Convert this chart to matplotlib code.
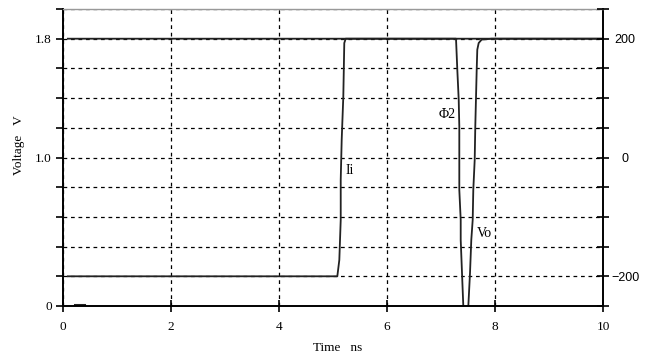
import numpy as np
import matplotlib.pyplot as plt
from matplotlib.ticker import MultipleLocator

plt.rcParams['font.family'] = ['Liberation Serif', 'DejaVu Serif']
plt.rcParams['font.size'] = 9.5

# transient traces, time in ns, voltage in V
ii_t = [0.09, 5.08, 5.117, 5.143, 5.143, 5.161, 5.191, 5.209, 5.235, 10.0]
ii_v = [0.2, 0.2, 0.31, 0.58, 0.85, 1.119, 1.411, 1.771, 1.8, 1.8]

phi2_t = [0.09, 7.278, 7.302, 7.328, 7.339, 7.339, 7.365, 7.365, 7.389, 7.413]
phi2_v = [1.8, 1.8, 1.591, 1.389, 1.209, 0.782, 0.58, 0.445, 0.222, 0.0]

vo_t = [7.506, 7.537, 7.561, 7.587, 7.598, 7.624, 7.635, 7.661, 7.672, 7.698, 7.753, 7.939, 10.0]
vo_v = [0.0, 0.22, 0.445, 0.58, 0.782, 0.984, 1.209, 1.591, 1.726, 1.771, 1.794, 1.8, 1.8]

# short glitch near the start
glitch_t = [0.22, 0.39]
glitch_v = [0.01, 0.01]

x_ticks = [0, 2, 4, 6, 8, 10]
y_ticks = [0, 1.0, 1.8]
y_ticklabels = ['0', '1.0', '1.8']
r_ticks = [-200, 0, 200]
r_ticklabels = ['\u2212200', '0', '200']

fig = plt.figure(figsize=(6.46, 3.61), dpi=100)
ax = fig.add_axes([63/646, 1-306/361, 540/646, 297/361])

ax.plot(ii_t, ii_v, color='#222222', lw=1.3)
ax.plot(phi2_t, phi2_v, color='#222222', lw=1.3)
ax.plot(vo_t, vo_v, color='#222222', lw=1.3)
ax.plot(glitch_t, glitch_v, color='#222222', lw=2.2)

ax.text(5.31, 0.91, 'Ii', ha='center', va='center', fontsize=10)
ax.text(7.11, 1.29, '\u03a62', ha='center', va='center', fontsize=10)
ax.text(7.8, 0.49, 'Vo', ha='center', va='center', fontsize=10)

ax.set_xlim(0, 10)
ax.set_ylim(0, 2.0)
ax.set_xticks(x_ticks)
ax.set_yticks(y_ticks)
ax.set_yticklabels(y_ticklabels)
ax.yaxis.set_minor_locator(MultipleLocator(0.2))
ax.tick_params(axis='x', direction='inout', length=8, width=1.2, pad=7)
ax.tick_params(axis='y', which='both', direction='out', length=5, width=1.2, pad=3)
ax.grid(True, which='both', color='black', ls=(0, (3, 3)), lw=0.9)
ax.set_axisbelow(True)

for side in ['left', 'bottom', 'right']:
    ax.spines[side].set_linewidth(1.4)
ax.spines['top'].set_color('#999999')
ax.spines['top'].set_linewidth(1.0)

ax.set_xlabel('Time   ns')
ax.xaxis.set_label_coords(0.508, -0.12)
ax.set_ylabel('Voltage   V')
ax.yaxis.set_label_coords(-0.07, 0.54)

ax2 = ax.twinx()
ax2.set_ylim(-250, 250)
ax2.set_yticks(r_ticks)
ax2.set_yticklabels(r_ticklabels, family=['Liberation Sans', 'DejaVu Sans'],
                    fontsize=9, ha='center')
ax2.yaxis.set_minor_locator(MultipleLocator(50))
ax2.tick_params(axis='y', which='both', direction='inout', length=8, width=1.2, pad=12)
for side in ax2.spines:
    ax2.spines[side].set_visible(False)

fig.savefig('out.png', dpi=100)
